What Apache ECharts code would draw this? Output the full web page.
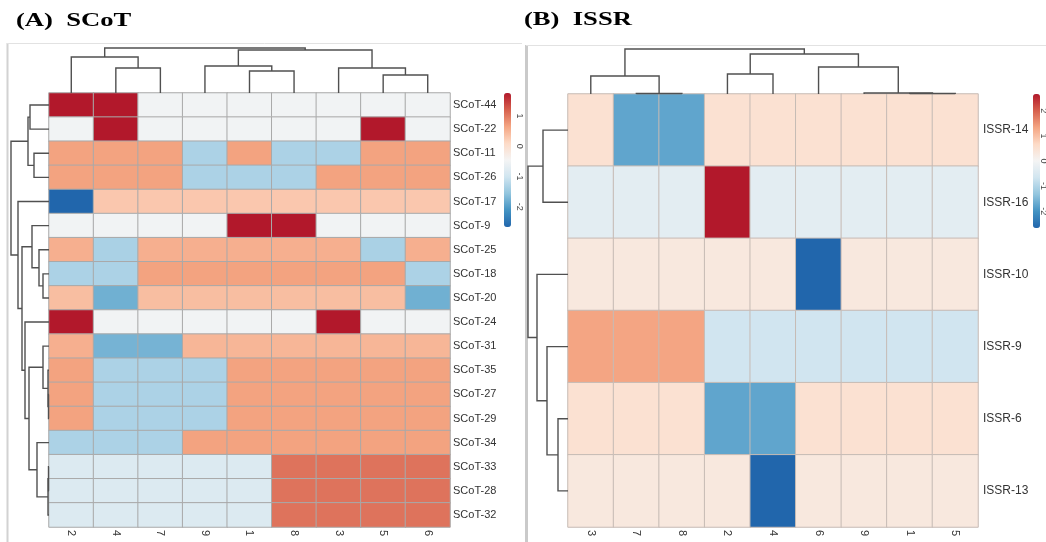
<!DOCTYPE html>
<html><head><meta charset="utf-8">
<script src="https://cdn.jsdelivr.net/npm/echarts@6/dist/echarts.min.js"></script>
<style>html,body{margin:0;padding:0;background:#fff}#c{width:1046px;height:542px}</style>
</head><body><div id="c"></div>
<script>
// ---------- Panel A (SCoT) ----------
const colsA = ['2','4','7','9','1','8','3','5','6'];
const rowsA = ['SCoT-44','SCoT-22','SCoT-11','SCoT-26','SCoT-17','SCoT-9','SCoT-25','SCoT-18','SCoT-20',
               'SCoT-24','SCoT-31','SCoT-35','SCoT-27','SCoT-29','SCoT-34','SCoT-33','SCoT-28','SCoT-32'];
const valuesA = [
  [ 1.76, 1.76,-0.50,-0.50,-0.50,-0.50,-0.50,-0.50,-0.50],
  [-0.50, 1.76,-0.50,-0.50,-0.50,-0.50,-0.50, 1.76,-0.50],
  [ 0.67, 0.67, 0.67,-1.33, 0.67,-1.33,-1.33, 0.67, 0.67],
  [ 0.67, 0.67, 0.67,-1.33,-1.33,-1.33, 0.67, 0.67, 0.67],
  [-2.67, 0.30, 0.30, 0.30, 0.30, 0.30, 0.30, 0.30, 0.30],
  [-0.50,-0.50,-0.50,-0.50, 1.76, 1.76,-0.50,-0.50,-0.50],
  [ 0.55,-1.35, 0.55, 0.55, 0.55, 0.55, 0.55,-1.35, 0.55],
  [-1.33,-1.33, 0.67, 0.67, 0.67, 0.67, 0.67, 0.67,-1.33],
  [ 0.40,-1.80, 0.40, 0.40, 0.40, 0.40, 0.40, 0.40,-1.80],
  [ 1.76,-0.50,-0.50,-0.50,-0.50,-0.50, 1.76,-0.50,-0.50],
  [ 0.55,-1.76,-1.76, 0.48, 0.48, 0.48, 0.48, 0.48, 0.48],
  [ 0.67,-1.33,-1.33,-1.33, 0.67, 0.67, 0.67, 0.67, 0.67],
  [ 0.67,-1.33,-1.33,-1.33, 0.67, 0.67, 0.67, 0.67, 0.67],
  [ 0.67,-1.33,-1.33,-1.33, 0.67, 0.67, 0.67, 0.67, 0.67],
  [-1.33,-1.33,-1.33, 0.67, 0.67, 0.67, 0.67, 0.67, 0.67],
  [-0.84,-0.84,-0.84,-0.84,-0.84, 1.05, 1.05, 1.05, 1.05],
  [-0.84,-0.84,-0.84,-0.84,-0.84, 1.05, 1.05, 1.05, 1.05],
  [-0.84,-0.84,-0.84,-0.84,-0.84, 1.05, 1.05, 1.05, 1.05]
];
const rangeA = [-2.67, 1.76];
// hclust-style merges: negative = leaf (1-based display position), positive = earlier merge; third = height
const colMergesA = [[-2,-3,25],[-1,1,36],[-5,-6,22],[-4,3,27],[-8,-9,18],[-7,5,25],[4,6,43],[2,7,45]];
const rowMergesA = [[-1,-2,19],[-3,-4,15],[1,2,21],[-16,-17,0.5],[-18,4,1],[-15,5,12],[-13,-14,0.5],[-12,7,1],
                    [-11,8,6],[9,6,20],[-10,10,24],[-8,-9,6],[-7,12,10],[-6,13,17],[14,11,27],[-5,15,31],[3,16,38]];
const legendTicksA = [-2,-1,0,1];

// ---------- Panel B (ISSR) ----------
const colsB = ['3','7','8','2','4','6','9','1','5'];
const rowsB = ['ISSR-14','ISSR-16','ISSR-10','ISSR-9','ISSR-6','ISSR-13'];
const valuesB = [
  [ 0.50,-1.76,-1.76, 0.50, 0.50, 0.50, 0.50, 0.50, 0.50],
  [-0.33,-0.33,-0.33, 2.67,-0.33,-0.33,-0.33,-0.33,-0.33],
  [ 0.33, 0.33, 0.33, 0.33, 0.33,-2.67, 0.33, 0.33, 0.33],
  [ 1.33, 1.33, 1.33,-0.67,-0.67,-0.67,-0.67,-0.67,-0.67],
  [ 0.50, 0.50, 0.50,-1.76,-1.76, 0.50, 0.50, 0.50, 0.50],
  [ 0.33, 0.33, 0.33, 0.33,-2.67, 0.33, 0.33, 0.33, 0.33]
];
const rangeB = [-2.67, 2.67];
const colMergesB = [[-2,-3,0.5],[-1,1,18],[-4,-5,20],[-8,-9,0.5],[-7,4,1],[-6,5,27],[3,6,40],[2,7,45]];
const rowMergesB = [[-1,-2,25],[-5,-6,10],[-4,2,21],[-3,3,31],[1,4,40]];
const legendTicksB = [-2,-1,0,1,2];

const palette = ['#2166AC','#4393C3','#92C5DE','#D1E5F0','#F4F4F4','#FDDBC7','#F4A582','#D6604D','#B2182B'];

function toCells(vals){ const d=[]; vals.forEach((r,i)=>r.forEach((v,j)=>d.push([j,i,v]))); return d; }
function dendroSegments(merges){
  const pos=[], hgt=[], segs=[];
  const node = id => id<0 ? [(-id)-1, 0] : [pos[id-1], hgt[id-1]];
  merges.forEach(([a,b,h])=>{
    const [pa,ha]=node(a), [pb,hb]=node(b);
    segs.push([pa,ha,pb,hb,h]); pos.push((pa+pb)/2); hgt.push(h);
  });
  return segs;
}
const lineStyle = {stroke:'#505050', lineWidth:1.4, fill:null};
function renderTop(params, api){
  const pts=[api.coord([api.value(0),api.value(1)]),api.coord([api.value(0),api.value(4)]),
             api.coord([api.value(2),api.value(4)]),api.coord([api.value(2),api.value(3)])];
  return {type:'polyline', shape:{points:pts}, style:lineStyle};
}
function renderSide(params, api){
  const pts=[api.coord([api.value(1),api.value(0)]),api.coord([api.value(4),api.value(0)]),
             api.coord([api.value(4),api.value(2)]),api.coord([api.value(3),api.value(2)])];
  return {type:'polyline', shape:{points:pts}, style:lineStyle};
}

const hidden = {show:false};
const catX = (data, lblMargin) => ({type:'category', data, axisLine:hidden, axisTick:hidden, splitLine:hidden,
  axisLabel:{rotate:-90, margin:lblMargin, fontSize:11, color:'#333', fontFamily:'Liberation Sans'}});
const catY = (data, lblMargin, fs) => ({type:'category', data, inverse:true, position:'right', axisLine:hidden, axisTick:hidden, splitLine:hidden,
  axisLabel:{margin:lblMargin, fontSize:fs, color:'#333', fontFamily:'Liberation Sans'}});
const valAx = (min,max,inv) => ({type:'value', min, max, inverse:!!inv, show:false, splitLine:hidden});
const legAx = (range, ticks) => ({type:'value', min:range[0], max:range[1], position:'right',
  axisLine:hidden, axisTick:hidden, splitLine:hidden,
  axisLabel:{rotate:-90, margin:4, fontSize:9, color:'#444', fontFamily:'Liberation Sans',
    formatter: v => ticks.indexOf(Math.round(v*100)/100)>=0 ? String(v) : ''}});

const option = {
  backgroundColor:'#fff',
  animation:false,
  grid:[
    {left:49, top:93, width:401, height:434},     // 0 heatmap A
    {left:568, top:94, width:410, height:433},    // 1 heatmap B
    {left:49, top:46, width:401, height:47},      // 2 top dendro A
    {left:8, top:93, width:41, height:434},       // 3 side dendro A
    {left:568, top:47, width:410, height:47},     // 4 top dendro B
    {left:527, top:94, width:41, height:433},     // 5 side dendro B
    {left:504, top:93, width:7, height:134},      // 6 legend axis A
    {left:1033, top:94, width:7, height:134}      // 7 legend axis B
  ],
  xAxis:[
    catX(colsA,3), catX(colsB,3),
    valAx(-0.5,8.5), valAx(0,41,true), valAx(-0.5,8.5), valAx(0,41,true),
    {type:'value', show:false}, {type:'value', show:false}
  ].map((a,i)=>Object.assign(a,{gridIndex:i})),
  yAxis:[
    catY(rowsA,3,11), catY(rowsB,5,12),
    valAx(0,47), valAx(-0.5,17.5,true), valAx(0,47), valAx(-0.5,5.5,true),
    legAx(rangeA, legendTicksA), legAx(rangeB, legendTicksB)
  ].map((a,i)=>Object.assign(a,{gridIndex:i})),
  visualMap:[
    {type:'continuous', min:rangeA[0], max:rangeA[1], seriesIndex:0, calculable:false, orient:'vertical',
     left:504, top:93, itemWidth:7, itemHeight:134, padding:0, text:null, inRange:{color:palette}},
    {type:'continuous', min:rangeB[0], max:rangeB[1], seriesIndex:1, calculable:false, orient:'vertical',
     left:1033, top:94, itemWidth:7, itemHeight:134, padding:0, text:null, inRange:{color:palette}}
  ],
  series:[
    {type:'heatmap', xAxisIndex:0, yAxisIndex:0, data:toCells(valuesA),
     itemStyle:{borderColor:'#a9a9a9', borderWidth:1}, emphasis:{disabled:true}},
    {type:'heatmap', xAxisIndex:1, yAxisIndex:1, data:toCells(valuesB),
     itemStyle:{borderColor:'#c6bbb5', borderWidth:1}, emphasis:{disabled:true}},
    {type:'custom', xAxisIndex:2, yAxisIndex:2, data:dendroSegments(colMergesA), renderItem:renderTop, clip:false, silent:true},
    {type:'custom', xAxisIndex:3, yAxisIndex:3, data:dendroSegments(rowMergesA), renderItem:renderSide, clip:false, silent:true},
    {type:'custom', xAxisIndex:4, yAxisIndex:4, data:dendroSegments(colMergesB), renderItem:renderTop, clip:false, silent:true},
    {type:'custom', xAxisIndex:5, yAxisIndex:5, data:dendroSegments(rowMergesB), renderItem:renderSide, clip:false, silent:true}
  ],
  graphic:[
    {type:'line', shape:{x1:7.5,y1:43,x2:7.5,y2:542}, style:{stroke:'#d2d2d2', lineWidth:2}, silent:true},
    {type:'line', shape:{x1:7,y1:43.5,x2:522,y2:43.5}, style:{stroke:'#e2e2e2', lineWidth:1}, silent:true},
    {type:'line', shape:{x1:526.5,y1:45,x2:526.5,y2:542}, style:{stroke:'#cacaca', lineWidth:3}, silent:true},
    {type:'line', shape:{x1:526,y1:45.5,x2:1046,y2:45.5}, style:{stroke:'#e2e2e2', lineWidth:1}, silent:true},
    {type:'text', x:16, y:21, scaleX:1.4, silent:true,
     style:{text:'(A)  SCoT', font:'bold 19px "Liberation Serif"', fill:'#000', verticalAlign:'middle'}},
    {type:'text', x:524, y:20, scaleX:1.4, silent:true,
     style:{text:'(B)  ISSR', font:'bold 19px "Liberation Serif"', fill:'#000', verticalAlign:'middle'}}
  ]
};
echarts.init(document.getElementById('c')).setOption(option);
</script>
</body></html>
